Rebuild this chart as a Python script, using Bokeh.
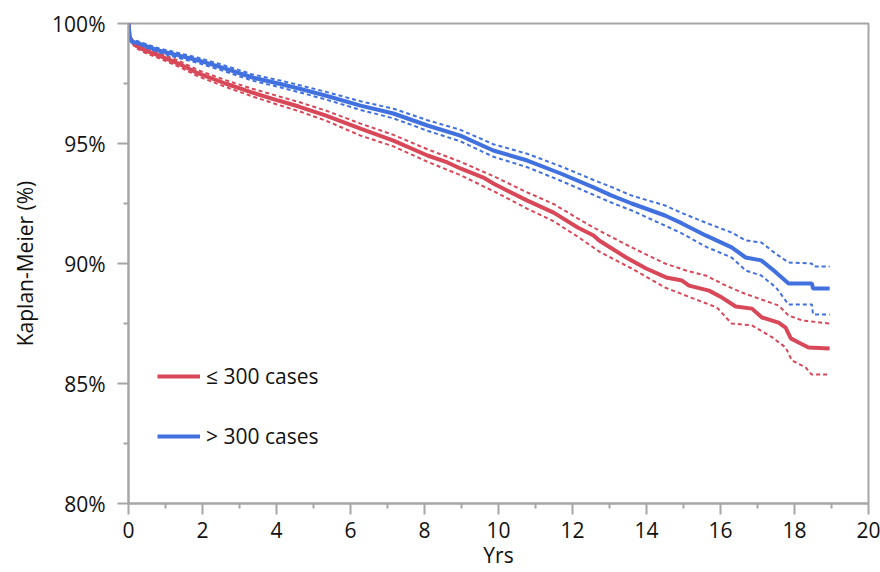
from bokeh.plotting import figure
from bokeh.models import FixedTicker, Range1d, Legend, LegendItem
from bokeh.embed import file_html
from bokeh.resources import INLINE

# ---------------- data ----------------
blue_t = [0, 0.03, 0.08, 0.27, 0.81, 1.35, 1.89, 2.62, 3.35, 4.05, 4.6, 5.32, 6.27, 7.16,
          8.08, 8.97, 9.86, 10.78, 11.68, 12.57, 13.03, 13.6, 14.5, 14.96, 15.6, 16.3,
          16.68, 17.1, 17.5, 17.84, 18.47, 18.5, 18.95]
blue_km = [100, 99.5, 99.25, 99.17, 98.88, 98.67, 98.46, 98.12, 97.75, 97.5, 97.29, 97.0,
           96.58, 96.25, 95.75, 95.33, 94.71, 94.29, 93.75, 93.17, 92.85, 92.5, 92.0, 91.67,
           91.17, 90.67, 90.25, 90.13, 89.63, 89.17, 89.17, 88.96, 88.96]
blue_hi = [100, 99.58, 99.33, 99.25, 98.97, 98.77, 98.57, 98.24, 97.88, 97.64, 97.44, 97.16,
           96.76, 96.45, 95.97, 95.57, 94.97, 94.57, 94.05, 93.48, 93.2, 92.83, 92.42, 92.1,
           91.7, 91.29, 90.96, 90.88, 90.4, 90.04, 90.0, 89.88, 89.88]
blue_lo = [100, 99.42, 99.17, 99.08, 98.79, 98.57, 98.35, 98.0, 97.62, 97.36, 97.14, 96.84,
           96.40, 96.05, 95.53, 95.09, 94.45, 94.01, 93.45, 92.86, 92.55, 92.21, 91.58, 91.25,
           90.7, 90.25, 89.71, 89.5, 89.0, 88.29, 88.29, 87.88, 87.88]

red_t = [0, 0.03, 0.19, 0.46, 0.81, 1.35, 1.89, 2.62, 3.35, 4.05, 4.6, 5.32, 6.27, 7.16,
         8.08, 8.62, 8.97, 9.59, 9.86, 10.78, 11.49, 12.14, 12.57, 12.72, 13.45, 13.99,
         14.53, 14.96, 15.15, 15.69, 16.04, 16.41, 16.85, 17.12, 17.57, 17.76, 17.9, 18.11,
         18.38, 18.95]
red_km = [100, 99.4, 99.08, 98.87, 98.67, 98.33, 97.92, 97.5, 97.12, 96.79, 96.54, 96.17,
          95.62, 95.12, 94.5, 94.21, 93.96, 93.58, 93.33, 92.62, 92.12, 91.5, 91.17, 90.96,
          90.25, 89.79, 89.42, 89.29, 89.08, 88.87, 88.58, 88.21, 88.12, 87.75, 87.54, 87.33,
          86.88, 86.71, 86.5, 86.46]

red_hi_t = [0, 0.03, 0.19, 0.46, 0.81, 1.35, 1.89, 2.62, 3.35, 4.05, 4.6, 5.32, 6.27, 7.16,
            8.08, 8.97, 9.86, 10.78, 11.49, 12.14, 12.72, 13.6, 14.5, 15.07, 15.6, 16.15,
            16.58, 17.03, 17.57, 17.84, 18.2, 18.95]
red_hi = [100, 99.48, 99.17, 98.97, 98.78, 98.45, 98.05, 97.64, 97.28, 96.97, 96.73, 96.38,
          95.83, 95.36, 94.76, 94.24, 93.64, 92.96, 92.48, 91.88, 91.37, 90.67, 90.0, 89.71,
          89.5, 89.08, 88.79, 88.54, 88.25, 87.83, 87.63, 87.5]

red_lo_t = [0, 0.03, 0.19, 0.46, 0.81, 1.35, 1.89, 2.62, 3.35, 4.05, 4.6, 5.32, 6.27, 7.16,
            8.08, 8.97, 9.86, 10.78, 11.49, 12.14, 12.72, 13.6, 14.5, 15.2, 15.9, 16.3,
            16.85, 17.4, 17.76, 17.93, 18.3, 18.46, 18.95]
red_lo = [100, 99.32, 98.99, 98.77, 98.56, 98.21, 97.79, 97.36, 96.96, 96.61, 96.35, 95.96,
          95.33, 94.88, 94.24, 93.68, 93.02, 92.28, 91.76, 91.12, 90.5, 89.79, 89.0, 88.58,
          88.17, 87.5, 87.42, 86.92, 86.5, 85.96, 85.67, 85.38, 85.38]

y_ticks = [80, 85, 90, 95, 100]
y_minor = [82.5, 87.5, 92.5, 97.5]
x_ticks = [0, 2, 4, 6, 8, 10, 12, 14, 16, 18, 20]
x_minor = [1, 3, 5, 7, 9, 11, 13, 15, 17, 19]
series_labels = ["\u2264 300 cases", "> 300 cases"]

RED = "#D84858"
BLUE = "#4170DF"
GRAY = "#A6A6A6"
FONT = "Open Sans"
TXT = "#111111"

p = figure(width=880, height=572, output_backend="svg", toolbar_location=None,
           x_range=Range1d(0, 20), y_range=Range1d(80, 100),
           min_border_left=128, min_border_right=12, min_border_top=23, min_border_bottom=69)
p.grid.visible = False
p.outline_line_color = GRAY
p.outline_line_width = 2
p.background_fill_color = "white"
p.border_fill_color = "white"

# confidence bands (dashed)
p.line(red_hi_t, red_hi, color=RED, line_width=2, line_dash="4 3")
p.line(red_lo_t, red_lo, color=RED, line_width=2, line_dash="4 3")
p.line(blue_t, blue_hi, color=BLUE, line_width=2, line_dash="4 3")
p.line(blue_t, blue_lo, color=BLUE, line_width=2, line_dash="4 3")

r_red = p.line(red_t, red_km, color=RED, line_width=4)
r_blue = p.line(blue_t, blue_km, color=BLUE, line_width=4)

legend = Legend(items=[LegendItem(label=series_labels[0], renderers=[r_red]),
                       LegendItem(label=series_labels[1], renderers=[r_blue])],
                location=(29, 53), orientation="vertical")
legend.border_line_color = None
legend.background_fill_alpha = 0
legend.padding = 0
legend.margin = 0
legend.spacing = 32
legend.glyph_width = 43
legend.glyph_height = 24
legend.label_height = 24
legend.label_standoff = 6
legend.label_text_font = FONT
legend.label_text_font_size = "21px"
legend.label_text_color = TXT
p.add_layout(legend)

for ax in (p.xaxis[0], p.yaxis[0]):
    ax.axis_line_color = GRAY
    ax.axis_line_width = 2
    ax.major_tick_line_color = GRAY
    ax.major_tick_line_width = 2
    ax.minor_tick_line_color = GRAY
    ax.minor_tick_line_width = 2
    ax.major_tick_in = 0
    ax.major_tick_out = 11
    ax.minor_tick_in = 0
    ax.minor_tick_out = 5
    ax.major_label_text_font = FONT
    ax.major_label_text_font_size = "21px"
    ax.major_label_text_color = TXT
    ax.axis_label_text_font = FONT
    ax.axis_label_text_font_size = "21px"
    ax.axis_label_text_font_style = "normal"
    ax.axis_label_text_color = TXT

p.xaxis.ticker = FixedTicker(ticks=x_ticks, minor_ticks=x_minor)
p.yaxis.ticker = FixedTicker(ticks=y_ticks, minor_ticks=y_minor)
p.yaxis.major_label_overrides = {v: f"{v}%" for v in y_ticks}
p.xaxis.axis_label = "Yrs"
p.yaxis.axis_label = "Kaplan-Meier (%)"
p.xaxis.major_label_standoff = 7
p.xaxis.axis_label_standoff = 0
p.yaxis.major_label_standoff = 12
p.yaxis.axis_label_standoff = 10

open("out.html", "w").write(file_html(p, INLINE))
